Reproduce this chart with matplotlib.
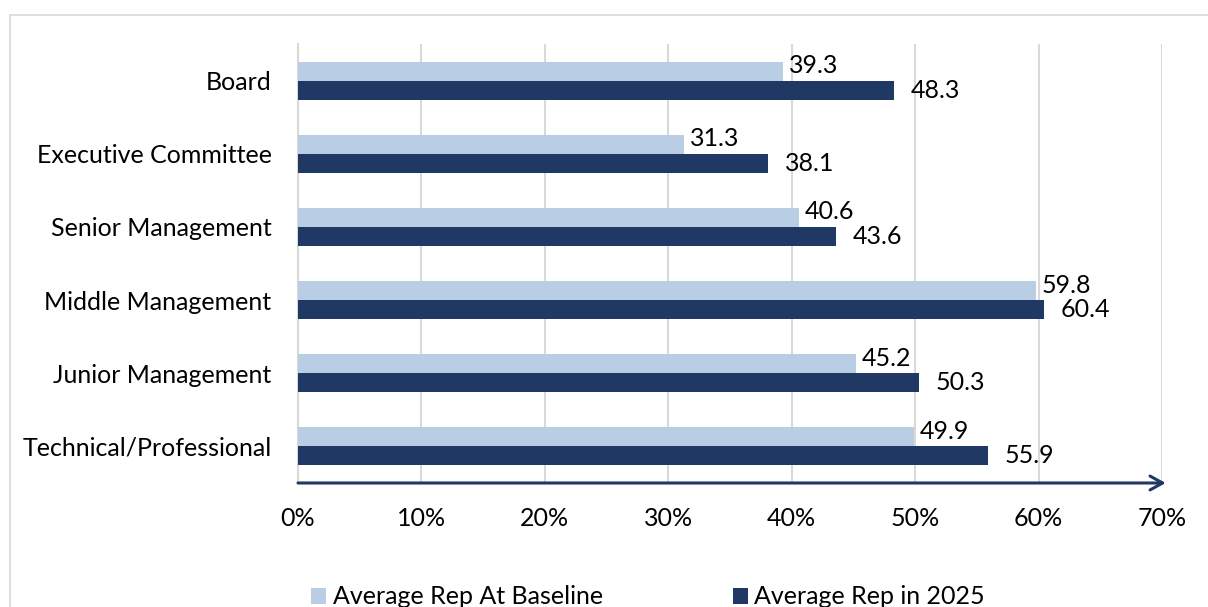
import matplotlib
matplotlib.use("Agg")
import matplotlib.pyplot as plt
from matplotlib.patches import Rectangle
import numpy as np

categories = ["Board", "Executive Committee", "Senior Management",
              "Middle Management", "Junior Management", "Technical/Professional"]
baseline = [39.3, 31.3, 40.6, 59.8, 45.2, 49.9]
rep2025 = [48.3, 38.1, 43.6, 60.4, 50.3, 55.9]
xticks = [0, 10, 20, 30, 40, 50, 60, 70]
xticklabels = ["0%", "10%", "20%", "30%", "40%", "50%", "60%", "70%"]
series_names = ["Average Rep At Baseline", "Average Rep in 2025"]

light = "#B9CDE5"
dark = "#203864"

plt.rcParams['font.family'] = ['Lato', 'DejaVu Sans']

W, H = 1208, 607
fig = plt.figure(figsize=(W/100, H/100), dpi=100)
ax = fig.add_axes([298/W, 1 - 483/H, (1162-298)/W, (483-44)/H])

# outer border
fig.patches.append(Rectangle((10/W, -0.1), 1.2, 1 - 15/H + 0.1, transform=fig.transFigure,
                             fill=False, edgecolor="#D9D9D9", linewidth=1.2, zorder=0))

y = np.arange(len(categories))
h = 0.26
ax.barh(y - h/2, baseline, height=h, color=light, label=series_names[0], zorder=3)
ax.barh(y + h/2, rep2025, height=h, color=dark, label=series_names[1], zorder=3)

fs = 18
for yi, v in zip(y, baseline):
    ax.annotate(f"{v:.1f}", (v, yi - h/2), xytext=(4, 4), textcoords="offset points",
                va="center", ha="left", fontsize=fs, color="black")
for yi, v in zip(y, rep2025):
    ax.annotate(f"{v:.1f}", (v, yi + h/2), xytext=(12, 0), textcoords="offset points",
                va="center", ha="left", fontsize=fs, color="black")

ax.set_xlim(0, 70)
ax.set_ylim(len(categories) - 0.5, -0.5)
ax.set_yticks(y)
ax.set_yticklabels(categories, fontsize=fs)
ax.set_xticks(xticks)
ax.set_xticklabels(xticklabels, fontsize=fs)
ax.tick_params(axis="both", length=0)
ax.tick_params(axis="x", pad=17)
ax.tick_params(axis="y", pad=19)
ax.grid(axis="x", color="#D9D9D9", linewidth=1.5, zorder=0)
for s in ["top", "right", "bottom"]:
    ax.spines[s].set_visible(False)
ax.spines["left"].set_color("#D9D9D9")
ax.spines["left"].set_linewidth(1.5)

# bottom axis arrow
ax.annotate("", xy=(70.3, 0.0), xytext=(0, 0.0), xycoords=("data", "axes fraction"),
            textcoords=("data", "axes fraction"),
            arrowprops=dict(arrowstyle="->,head_length=0.9,head_width=0.5", color=dark,
                            lw=2.2, shrinkA=0, shrinkB=0), annotation_clip=False)

leg = fig.legend(loc="center", bbox_to_anchor=(648/W, 1 - 597/H), ncol=2, frameon=False,
                 fontsize=fs, handlelength=0.6, handleheight=0.6, handletextpad=0.25,
                 columnspacing=5.2)

fig.savefig("out.png", dpi=100)
